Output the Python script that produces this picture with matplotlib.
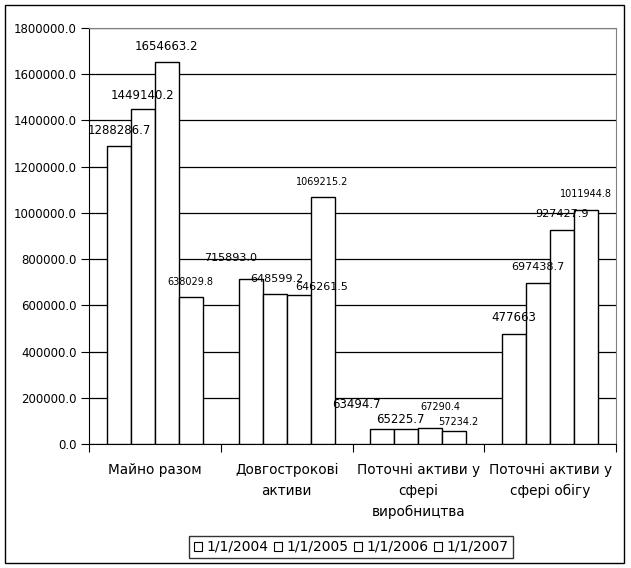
import matplotlib.pyplot as plt
import matplotlib.patches as mpatches
import numpy as np

categories = ['Майно разом', 'Довгострокові\nактиви',
              'Поточні активи у\nсфері\nвиробництва',
              'Поточні активи у\nсфері обігу']
series_names = ['1/1/2004', '1/1/2005', '1/1/2006', '1/1/2007']
# values per category: [2004, 2005, 2006, 2007]
maino = [1288286.7, 1449140.2, 1654663.2, 638029.8]
dovgostr = [715893.0, 648599.2, 646261.5, 1069215.2]
vyrobn = [63494.7, 65225.7, 67290.4, 57234.2]
obig = [477663, 697438.7, 927427.9, 1011944.8]
label_texts = [['1288286.7', '1449140.2', '1654663.2', '638029.8'],
               ['715893.0', '648599.2', '646261.5', '1069215.2'],
               ['63494.7', '65225.7', '67290.4', '57234.2'],
               ['477663', '697438.7', '927427.9', '1011944.8']]

data = np.array([maino, dovgostr, vyrobn, obig])

# label offsets in pixels (dx, dy) and font sizes, to mimic the excel layout
offsets = [[(0, 16), (0, 14), (0, 15), (0, 15)],
           [(-20, 21), (2, 15), (23, 8), (0, 15)],
           [(-26, 25), (-6, 9), (10, 21), (4, 9)],
           [(0, 16), (0, 16), (0, 16), (0, 16)]]
sizes = [[8.5, 8.5, 8.5, 7],
         [8, 8, 8, 7],
         [8.5, 8.5, 7, 7],
         [8.5, 8, 8, 7]]

fig = plt.figure(figsize=(6.31, 5.68), dpi=100)
ax = fig.add_axes([89/631, 124/568, (616-89)/631, (444-28)/568])

w = 0.182
x = np.arange(len(categories))
for i in range(4):
    pos = x + (i - 1.5) * w
    ax.bar(pos, data[:, i], width=w, color='white', edgecolor='black',
           linewidth=1, zorder=3)
    for j in range(len(categories)):
        dx, dy = offsets[j][i]
        ax.annotate(label_texts[j][i], (pos[j], data[j, i]), xytext=(dx, dy),
                    textcoords='offset pixels', ha='center', va='center',
                    fontsize=sizes[j][i], zorder=5)

ax.set_xlim(-0.5, 3.5)
ax.set_ylim(0, 1800000)
ax.set_yticks(np.arange(0, 1800001, 200000))
ax.yaxis.set_major_formatter(plt.FuncFormatter(lambda v, p: '%.1f' % v))
ax.tick_params(axis='y', direction='out', length=6, labelsize=8.5, pad=3)
ax.grid(axis='y', color='black', linewidth=0.9, zorder=0)
ax.set_axisbelow(True)

ax.set_xticks(np.arange(-0.5, 4, 1))
ax.set_xticklabels([])
ax.set_xticks(x, minor=True)
ax.set_xticklabels(categories, minor=True, fontsize=9.8, va='top',
                   linespacing=1.6)
ax.tick_params(axis='x', which='major', direction='out', length=6)
ax.tick_params(axis='x', which='minor', length=0, pad=14)

for s in ['top', 'right']:
    ax.spines[s].set_color('#808080')
for s in ['left', 'bottom']:
    ax.spines[s].set_color('black')

handles = [mpatches.Patch(facecolor='white', edgecolor='black', linewidth=0.8)
           for _ in series_names]
leg = fig.legend(handles, series_names, loc='center', ncol=4,
                 bbox_to_anchor=(351/631, 1 - 547/568), fontsize=10,
                 handlelength=0.6, handleheight=0.6, handletextpad=0.3,
                 columnspacing=0.4, frameon=True, fancybox=False,
                 borderpad=0.3, borderaxespad=0)
leg.get_frame().set_edgecolor('black')
leg.get_frame().set_linewidth(1)

border = mpatches.Rectangle((5/631, 5/568), 619/631, 558/568, fill=False,
                            edgecolor='black', linewidth=1,
                            transform=fig.transFigure)
fig.patches.append(border)

fig.savefig('out.png', dpi=100)
